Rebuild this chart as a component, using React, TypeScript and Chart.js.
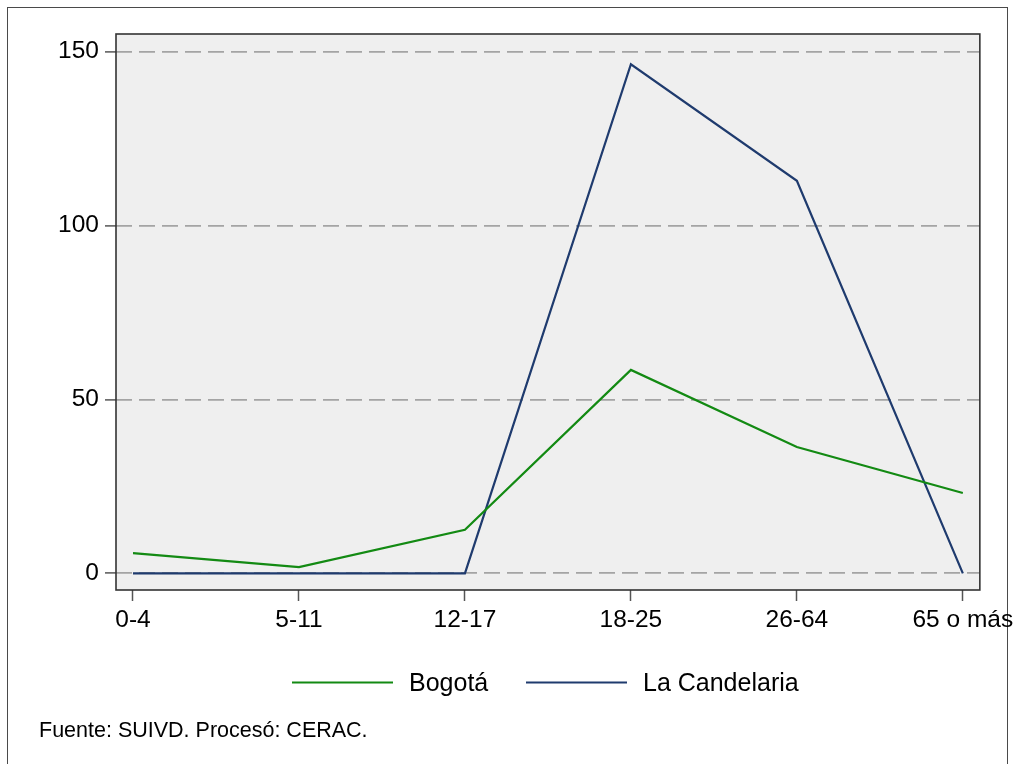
import React, { useEffect, useRef } from 'react';
import { Chart, registerables } from 'chart.js';

Chart.register(...registerables);

const categories = ['0-4', '5-11', '12-17', '18-25', '26-64', '65 o más'];
const bogotaValues = [5.8, 1.8, 12.5, 58.5, 36.3, 23.1];
const candelariaValues = [0, 0, 0, 146.4, 112.9, 0];
const yTickValues = [0, 50, 100, 150];
const seriesNames = ['Bogotá', 'La Candelaria'];
const seriesColors = ['#138a13', '#1f3b6e'];
const footnote = 'Fuente: SUIVD. Procesó: CERAC.';

const FONT = '"Liberation Sans", Arial, Helvetica, sans-serif';

export default function App() {
  const ref = useRef<HTMLCanvasElement>(null);

  useEffect(() => {
    const canvas = ref.current;
    if (!canvas) return;

    const framePlugin = {
      id: 'stataFrame',
      beforeDraw(chart: any) {
        const { ctx, chartArea: a } = chart;
        ctx.save();
        ctx.fillStyle = '#ffffff';
        ctx.fillRect(0, 0, chart.width, chart.height);
        ctx.strokeStyle = '#4a4a4a';
        ctx.lineWidth = 1;
        ctx.strokeRect(7.5, 7.5, 1000, 800);
        ctx.fillStyle = '#efefef';
        ctx.fillRect(a.left, a.top, a.right - a.left, a.bottom - a.top);
        ctx.restore();
      },
      beforeDatasetsDraw(chart: any) {
        const { ctx, chartArea: a } = chart;
        ctx.save();
        ctx.strokeStyle = '#333333';
        ctx.lineWidth = 1.6;
        ctx.strokeRect(a.left, a.top, a.right - a.left, a.bottom - a.top);
        ctx.restore();
      },
      afterDraw(chart: any) {
        const { ctx } = chart;
        ctx.save();
        const items = chart.data.datasets;
        const lineStarts = [292, 526];
        const lineLen = 101;
        const legendY = 682.5;
        items.forEach((ds: any, i: number) => {
          const x0 = lineStarts[i];
          ctx.strokeStyle = ds.borderColor;
          ctx.lineWidth = 2.2;
          ctx.beginPath();
          ctx.moveTo(x0, legendY);
          ctx.lineTo(x0 + lineLen, legendY);
          ctx.stroke();
          ctx.fillStyle = '#000000';
          ctx.font = `25px ${FONT}`;
          ctx.textAlign = 'left';
          ctx.textBaseline = 'middle';
          ctx.fillText(ds.label, x0 + lineLen + 16, legendY + 2);
        });
        ctx.font = `21.5px ${FONT}`;
        ctx.fillStyle = '#000000';
        ctx.textAlign = 'left';
        ctx.textBaseline = 'middle';
        ctx.fillText(footnote, 39, 731);
        ctx.restore();
      },
    };

    const chart = new Chart(canvas, {
      type: 'line',
      data: {
        datasets: [
          {
            label: seriesNames[0],
            data: bogotaValues.map((v, i) => ({ x: i, y: v })),
            borderColor: seriesColors[0],
            backgroundColor: seriesColors[0],
            borderWidth: 2.2,
            pointRadius: 0,
            tension: 0,
            fill: false,
          },
          {
            label: seriesNames[1],
            data: candelariaValues.map((v, i) => ({ x: i, y: v })),
            borderColor: seriesColors[1],
            backgroundColor: seriesColors[1],
            borderWidth: 2.2,
            pointRadius: 0,
            tension: 0,
            fill: false,
          },
        ],
      },
      options: {
        animation: false,
        responsive: false,
        maintainAspectRatio: false,
        layout: { padding: { top: 34, right: 39, bottom: 0, left: 0 } },
        plugins: {
          legend: { display: false },
          tooltip: { enabled: false },
          title: { display: false },
        },
        scales: {
          x: {
            type: 'linear',
            min: -0.1024,
            max: 5.1024,
            afterBuildTicks: (scale: any) => {
              scale.ticks = categories.map((_, i) => ({ value: i }));
            },
            afterFit: (scale: any) => {
              scale.height = 174;
            },
            ticks: {
              callback: (value: any) => categories[Math.round(Number(value))] ?? '',
              font: { family: FONT, size: 24.5 },
              color: '#000000',
              padding: 5,
              maxRotation: 0,
              autoSkip: false,
            },
            grid: {
              drawOnChartArea: false,
              drawTicks: true,
              tickLength: 11,
              tickColor: '#555555',
              tickWidth: 1.5,
            },
            border: { display: false },
          },
          y: {
            type: 'linear',
            min: -4.8,
            max: 155.1,
            afterBuildTicks: (scale: any) => {
              scale.ticks = yTickValues.map((v) => ({ value: v }));
            },
            afterFit: (scale: any) => {
              scale.width = 116;
            },
            ticks: {
              font: { family: FONT, size: 24.5 },
              color: '#000000',
              padding: 6,
            },
            grid: {
              color: '#a4a4a4',
              lineWidth: 1.8,
              drawTicks: true,
              tickLength: 11,
              tickColor: '#555555',
              tickWidth: 1.5,
              borderDash: [16, 7],
            } as any,
            border: { display: false, dash: [16, 7] },
          },
        },
      },
      plugins: [framePlugin],
    } as any);

    return () => {
      chart.destroy();
    };
  }, []);

  return (
    <div style={{ position: 'absolute', left: 0, top: 0, width: 1019, height: 764 }}>
      <canvas ref={ref} width={1019} height={764} style={{ display: 'block' }} />
    </div>
  );
}
